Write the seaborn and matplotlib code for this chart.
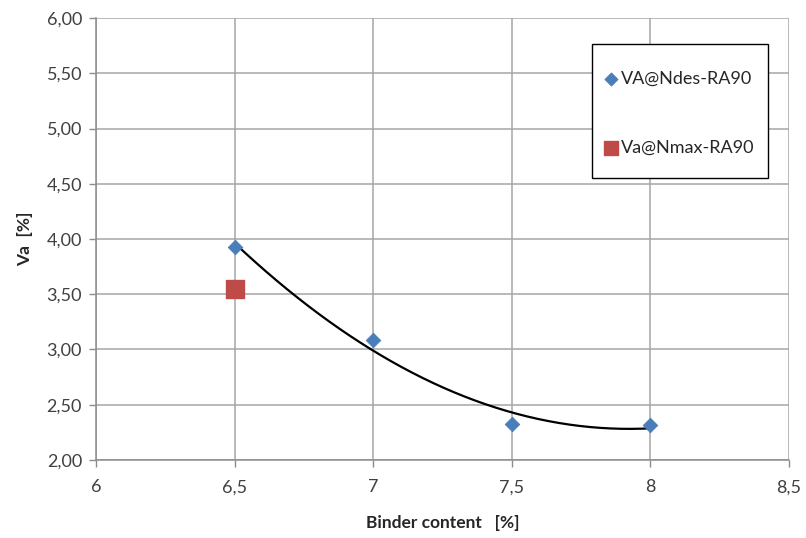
import numpy as np
import pandas as pd
import matplotlib
matplotlib.use("Agg")
import matplotlib.pyplot as plt
import seaborn as sns
from matplotlib.patches import Rectangle
from matplotlib.ticker import FuncFormatter, MultipleLocator

# Air voids vs. binder content
binder_ndes = [6.5, 7.0, 7.5, 8.0]
va_ndes = [3.93, 3.09, 2.33, 2.32]
binder_nmax = [6.5]
va_nmax = [3.55]
label_ndes = "VA@Ndes-RA90"
label_nmax = "Va@Nmax-RA90"

sns.set_theme(style="white")
plt.rcParams["font.family"] = ["Lato", "DejaVu Sans"]

fig = plt.figure(figsize=(8.06, 5.38), dpi=100)
ax = fig.add_axes([0.119, 0.145, 0.860, 0.8215])

# second-order polynomial trend through the Ndes points
coef = np.polyfit(binder_ndes, va_ndes, 2)
xs = np.linspace(min(binder_ndes), max(binder_ndes), 200)
trend = pd.DataFrame({"x": xs, "y": np.polyval(coef, xs)})
sns.lineplot(data=trend, x="x", y="y", ax=ax, color="black", lw=1.6,
             zorder=3, legend=False)

df_ndes = pd.DataFrame({"x": binder_ndes, "y": va_ndes})
df_nmax = pd.DataFrame({"x": binder_nmax, "y": va_nmax})
sns.scatterplot(data=df_ndes, x="x", y="y", ax=ax, marker="D", s=55,
                color="#4a7ebb", edgecolor="#4a7ebb", label=label_ndes, zorder=4)
sns.scatterplot(data=df_nmax, x="x", y="y", ax=ax, marker="s", s=150,
                color="#be4b48", edgecolor="#be4b48", label=label_nmax, zorder=4)

ax.set_xlim(6, 8.5)
ax.set_ylim(2, 6)
ax.xaxis.set_major_locator(MultipleLocator(0.5))
ax.yaxis.set_major_locator(MultipleLocator(0.5))
ax.xaxis.set_major_formatter(FuncFormatter(lambda v, p: f"{v:g}".replace(".", ",")))
ax.yaxis.set_major_formatter(FuncFormatter(lambda v, p: f"{v:.2f}".replace(".", ",")))

ax.grid(True, color="#a6a6a6", lw=1.1)
for s in ["top", "right"]:
    ax.spines[s].set_visible(False)
for s in ["left", "bottom"]:
    ax.spines[s].set_color("#8c8c8c")
    ax.spines[s].set_linewidth(1.1)
ax.tick_params(axis="both", which="major", length=5, width=1, color="#8c8c8c",
               labelsize=13, labelcolor="#404040", direction="out",
               left=True, bottom=True, pad=5)
ax.tick_params(axis="x", pad=9)

ax.set_xlabel("Binder content   [%]", fontsize=12.5, fontweight="bold",
              color="#262626", labelpad=14)
ax.set_ylabel("Va  [%]", fontsize=12.5, fontweight="bold", color="#262626",
              labelpad=10)

# legend box drawn as its own frame, entries placed inside it
ax.add_patch(Rectangle((0.7157, 0.638), 0.254, 0.303, transform=ax.transAxes,
                       facecolor="white", edgecolor="black", lw=1.0,
                       zorder=5, clip_on=False))
leg = ax.legend(loc="upper left", bbox_to_anchor=(0.733, 0.880),
                fontsize=13, frameon=False,
                labelspacing=2.9, borderpad=0, handlelength=0.8,
                handletextpad=0.15, borderaxespad=0)
leg.set_zorder(6)
handles = leg.legend_handles
handles[0].set_sizes([45])
handles[1].set_sizes([110])
for t in leg.get_texts():
    t.set_color("#262626")

fig.savefig("out.png", dpi=100)
